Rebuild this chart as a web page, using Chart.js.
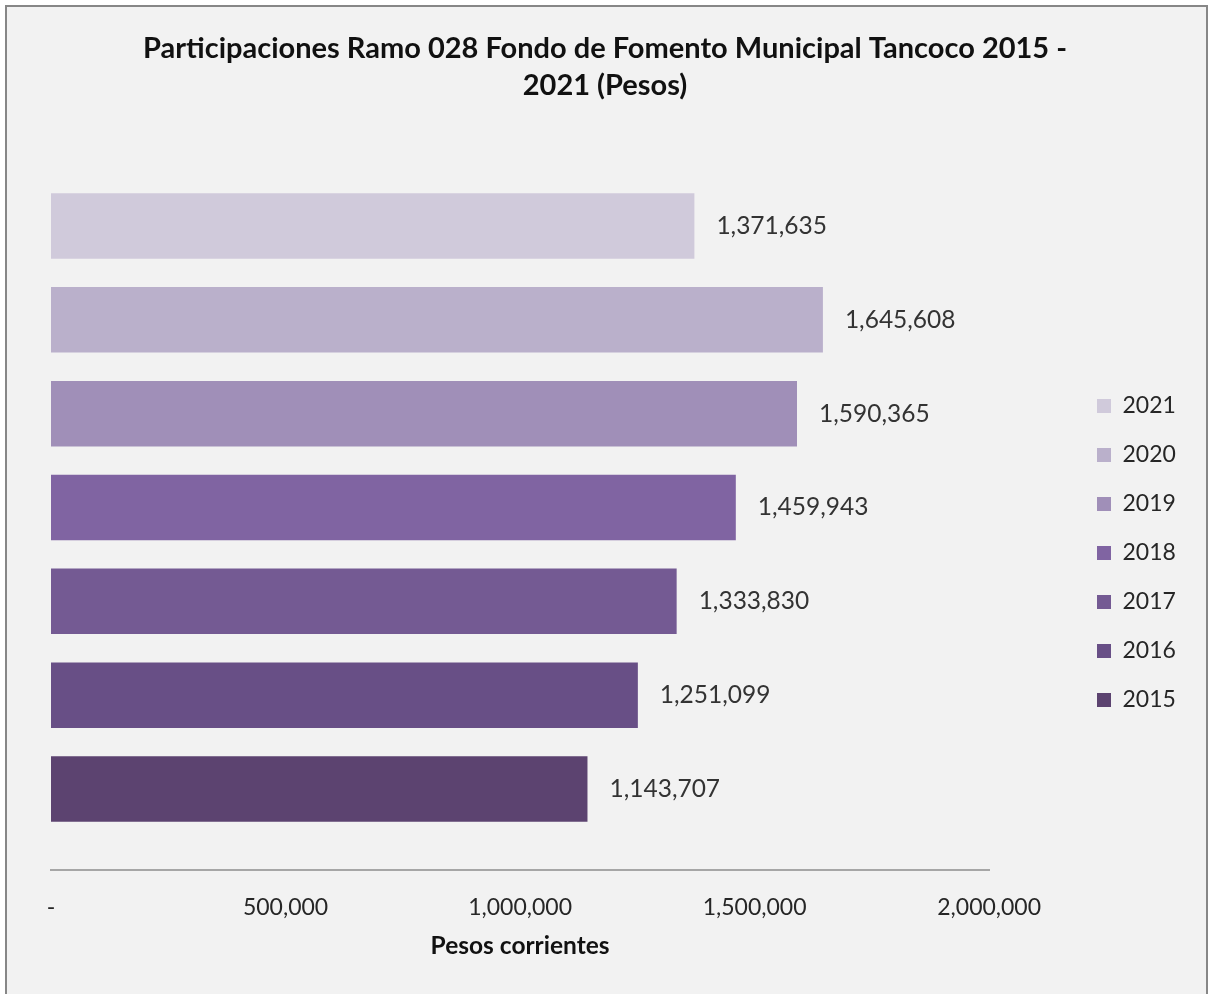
<!DOCTYPE html>
<html><head><meta charset="utf-8">
<script src="https://cdn.jsdelivr.net/npm/chart.js@4/dist/chart.umd.min.js"></script>
<style>html,body{margin:0;padding:0;background:#fff;overflow:hidden}#wrap{position:absolute;left:0;top:0;width:1208px;height:994px}</style>
</head><body><div id="wrap"><canvas id="c" width="1208" height="994"></canvas></div>
<script>
const years = ['2021','2020','2019','2018','2017','2016','2015'];
const values = [1371635, 1645608, 1590365, 1459943, 1333830, 1251099, 1143707];
const colors = ['#d0cadb','#bab0cb','#a08fb8','#8064a2','#745a93','#684f86','#5c4370'];
const category = [''];
const xMin = 0, xMax = 2000000, xStep = 500000;
const titleLines = ['Participaciones Ramo 028 Fondo de Fomento Municipal Tancoco 2015 -', '2021 (Pesos)'];
const xTitle = 'Pesos corrientes';

const FONT = 'Lato, "Open Sans", sans-serif';
const fmt = v => v === 0 ? '-' : v.toLocaleString('en-US');

const bgPlugin = {
  id: 'bg',
  beforeDraw(chart) {
    const ctx = chart.ctx;
    ctx.save();
    ctx.fillStyle = '#ffffff';
    ctx.fillRect(0, 0, chart.width, chart.height);
    ctx.fillStyle = '#f2f2f2';
    ctx.fillRect(5, 5, chart.width, chart.height);
    ctx.fillStyle = '#878787';
    ctx.fillRect(5, 5, 2, chart.height);
    ctx.fillRect(5, 5, chart.width, 2);
    ctx.fillRect(chart.width - 2, 5, 2, chart.height);
    ctx.restore();
  }
};

const boxShift = {
  id: 'boxShift',
  afterLayout(chart) {
    const L = chart.legend;
    const pad = L.options.labels.padding;
    const dx = 1097 - pad - L.left;
    L.left += dx; L.right += dx;
    const dy = (406 - 11.5 - pad) - L.top;
    L.top += dy; L.bottom += dy;
    const T = chart.titleBlock;
    if (T) {
      const tdx = chart.width / 2 + 1 - (T.left + T.right) / 2;
      T.left += tdx; T.right += tdx;
    }
  }
};

const valueLabels = {
  id: 'valueLabels',
  afterDatasetsDraw(chart) {
    const ctx = chart.ctx;
    ctx.save();
    ctx.font = '24.5px ' + FONT;
    ctx.fillStyle = '#333333';
    ctx.textAlign = 'left';
    ctx.textBaseline = 'middle';
    chart.data.datasets.forEach((ds, i) => {
      const meta = chart.getDatasetMeta(i);
      meta.data.forEach((el, j) => {
        ctx.fillText(fmt(ds.data[j]), el.x + 22, el.y);
      });
    });
    ctx.restore();
  }
};

new Chart(document.getElementById('c'), {
  type: 'bar',
  data: {
    labels: category,
    datasets: years.map((y, i) => ({
      label: y,
      data: [values[i]],
      backgroundColor: colors[i],
      borderWidth: 0,
      categoryPercentage: 0.906,
      barPercentage: 0.698
    }))
  },
  options: {
    indexAxis: 'y',
    responsive: false,
    maintainAspectRatio: false,
    devicePixelRatio: 1,
    animation: false,
    layout: { padding: { left: 51, right: 104, top: 0, bottom: 0 } },
    plugins: {
      tooltip: { enabled: false },
      title: {
        display: true,
        text: titleLines,
        color: '#111111',
        font: { family: FONT, size: 29, weight: 'bold', lineHeight: 37 / 29 },
        padding: { top: 30, bottom: 41 }
      },
      legend: {
        position: 'right',
        align: 'start',
        labels: {
          boxWidth: 14, boxHeight: 14, padding: 26,
          color: '#262626',
          font: { family: FONT, size: 23 }
        }
      }
    },
    scales: {
      x: {
        type: 'linear',
        min: xMin, max: xMax,
        grid: { display: false, drawTicks: false },
        border: { display: true, color: '#a6a6a6', width: 2 },
        ticks: { stepSize: xStep, padding: 24, color: '#262626', font: { family: FONT, size: 23 }, callback: v => fmt(v), maxRotation: 0 },
        title: { display: true, text: xTitle, color: '#111111', font: { family: FONT, size: 24.5, weight: 'bold', lineHeight: 1.2 }, padding: { top: 0, bottom: 33 } },
        afterFit(scale) { scale.height = 124; }
      },
      y: {
        type: 'category',
        display: false,
        grid: { display: false }
      }
    }
  },
  plugins: [bgPlugin, boxShift, valueLabels]
});
</script>
</body></html>
